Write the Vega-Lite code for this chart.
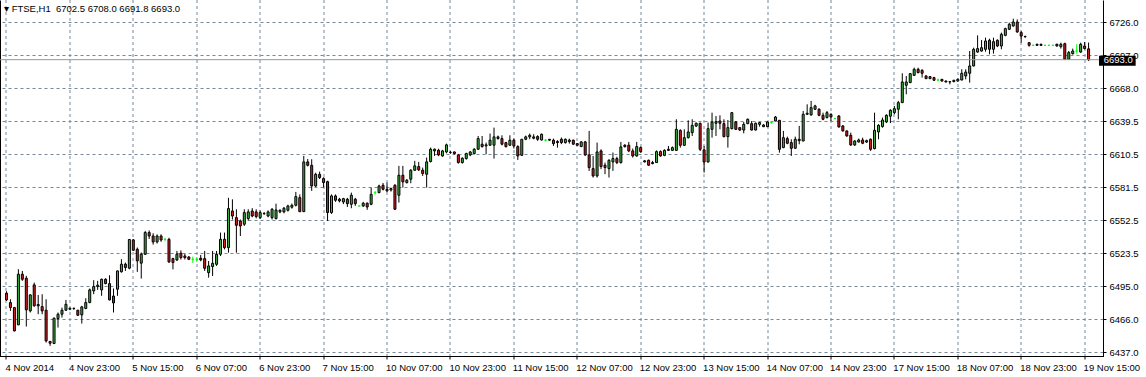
{
  "$schema": "https://vega.github.io/schema/vega-lite/v6.json",
  "width": 1103,
  "height": 356.5,
  "autosize": {"type": "none"},
  "padding": {"left": 0, "top": 0, "right": 43, "bottom": 20.5},
  "background": "#ffffff",
  "config": {"view": {"stroke": null}},
  "title": {
    "text": "▾ FTSE,H1\u00a0\u00a06702.5 6708.0 6691.8 6693.0",
    "anchor": "start", "frame": "group", "orient": "top", "offset": -21, "dx": 4,
    "font": "Liberation Sans", "fontSize": 9.5, "fontWeight": "normal", "color": "#000000", "baseline": "alphabetic"
  },
  "datasets": {
    "ohlc": [
{"i":0,"o":6488.5,"h":6490.2,"l":6481.8,"c":6482.6},
{"i":1,"o":6480.3,"h":6483.2,"l":6473.0,"c":6475.9},
{"i":2,"o":6475.9,"h":6476.5,"l":6455.0,"c":6455.5},
{"i":3,"o":6460.8,"h":6509.5,"l":6460.5,"c":6505.1},
{"i":4,"o":6505.1,"h":6508.0,"l":6499.3,"c":6500.7},
{"i":5,"o":6501.6,"h":6503.7,"l":6459.3,"c":6473.9},
{"i":6,"o":6473.0,"h":6487.6,"l":6471.6,"c":6487.0},
{"i":7,"o":6495.8,"h":6497.8,"l":6476.8,"c":6477.4},
{"i":8,"o":6478.6,"h":6487.0,"l":6470.1,"c":6477.4},
{"i":9,"o":6476.8,"h":6487.6,"l":6470.1,"c":6473.0},
{"i":10,"o":6473.6,"h":6483.2,"l":6445.3,"c":6446.7},
{"i":11,"o":6446.2,"h":6446.7,"l":6442.4,"c":6444.7},
{"i":12,"o":6444.4,"h":6467.2,"l":6444.0,"c":6466.6},
{"i":13,"o":6466.3,"h":6471.6,"l":6458.4,"c":6470.1},
{"i":14,"o":6470.1,"h":6475.9,"l":6467.2,"c":6473.6},
{"i":15,"o":6473.6,"h":6482.6,"l":6473.0,"c":6478.8},
{"i":16,"o":6474.5,"h":6475.9,"l":6473.6,"c":6475.3},
{"i":17,"o":6475.0,"h":6476.0,"l":6474.0,"c":6475.2},
{"i":18,"o":6473.6,"h":6473.9,"l":6468.6,"c":6469.2},
{"i":19,"o":6469.5,"h":6477.4,"l":6461.9,"c":6476.5},
{"i":20,"o":6475.1,"h":6484.1,"l":6474.5,"c":6480.3},
{"i":21,"o":6480.3,"h":6492.6,"l":6479.7,"c":6491.4},
{"i":22,"o":6490.5,"h":6499.9,"l":6487.6,"c":6494.3},
{"i":23,"o":6494.3,"h":6499.3,"l":6491.4,"c":6495.5},
{"i":24,"o":6491.4,"h":6501.3,"l":6486.2,"c":6500.7},
{"i":25,"o":6500.7,"h":6501.6,"l":6496.3,"c":6496.9},
{"i":26,"o":6496.9,"h":6504.2,"l":6482.2,"c":6482.6},
{"i":27,"o":6486.0,"h":6492.6,"l":6471.6,"c":6480.0},
{"i":28,"o":6492.0,"h":6508.3,"l":6486.2,"c":6508.0},
{"i":29,"o":6507.2,"h":6518.3,"l":6506.6,"c":6513.9},
{"i":30,"o":6513.9,"h":6515.3,"l":6508.0,"c":6511.0},
{"i":31,"o":6510.4,"h":6536.0,"l":6509.5,"c":6535.5},
{"i":32,"o":6535.2,"h":6535.8,"l":6525.8,"c":6526.1},
{"i":33,"o":6527.0,"h":6528.5,"l":6507.2,"c":6516.8},
{"i":34,"o":6514.8,"h":6524.1,"l":6501.3,"c":6522.6},
{"i":35,"o":6522.6,"h":6543.0,"l":6522.0,"c":6541.6},
{"i":36,"o":6541.6,"h":6543.5,"l":6536.0,"c":6538.6},
{"i":37,"o":6538.6,"h":6541.0,"l":6531.0,"c":6533.4},
{"i":38,"o":6533.4,"h":6540.0,"l":6532.0,"c":6538.6},
{"i":39,"o":6538.6,"h":6540.0,"l":6533.5,"c":6535.1},
{"i":40,"o":6535.7,"h":6537.0,"l":6534.0,"c":6535.7},
{"i":41,"o":6535.7,"h":6537.0,"l":6515.0,"c":6515.9},
{"i":42,"o":6518.8,"h":6519.5,"l":6509.4,"c":6515.3},
{"i":43,"o":6517.6,"h":6525.5,"l":6516.7,"c":6522.6},
{"i":44,"o":6523.5,"h":6526.0,"l":6518.0,"c":6519.7},
{"i":45,"o":6521.1,"h":6523.0,"l":6518.0,"c":6519.7},
{"i":46,"o":6520.2,"h":6521.0,"l":6517.5,"c":6518.2},
{"i":47,"o":6518.2,"h":6520.5,"l":6515.0,"c":6518.2},
{"i":48,"o":6518.2,"h":6520.0,"l":6516.0,"c":6518.2},
{"i":49,"o":6519.1,"h":6522.0,"l":6516.5,"c":6517.6},
{"i":50,"o":6518.8,"h":6525.5,"l":6508.0,"c":6510.3},
{"i":51,"o":6506.5,"h":6516.7,"l":6502.1,"c":6512.4},
{"i":52,"o":6511.8,"h":6525.5,"l":6503.6,"c":6514.7},
{"i":53,"o":6513.8,"h":6525.5,"l":6512.4,"c":6522.6},
{"i":54,"o":6522.6,"h":6541.6,"l":6521.1,"c":6535.7},
{"i":55,"o":6535.7,"h":6541.6,"l":6526.9,"c":6528.4},
{"i":56,"o":6528.4,"h":6572.0,"l":6524.0,"c":6562.6},
{"i":57,"o":6560.5,"h":6570.7,"l":6553.0,"c":6556.1},
{"i":58,"o":6554.7,"h":6562.0,"l":6524.0,"c":6548.0},
{"i":59,"o":6551.8,"h":6553.0,"l":6538.6,"c":6547.4},
{"i":60,"o":6548.9,"h":6562.0,"l":6547.4,"c":6559.1},
{"i":61,"o":6553.8,"h":6562.0,"l":6552.0,"c":6559.7},
{"i":62,"o":6560.5,"h":6563.0,"l":6555.0,"c":6556.1},
{"i":63,"o":6559.7,"h":6562.0,"l":6554.0,"c":6555.6},
{"i":64,"o":6554.7,"h":6561.0,"l":6553.5,"c":6559.1},
{"i":65,"o":6558.2,"h":6559.5,"l":6557.0,"c":6558.4},
{"i":66,"o":6556.1,"h":6561.0,"l":6555.0,"c":6559.7},
{"i":67,"o":6554.7,"h":6563.0,"l":6553.0,"c":6562.0},
{"i":68,"o":6553.8,"h":6566.9,"l":6553.2,"c":6561.4},
{"i":69,"o":6559.7,"h":6562.0,"l":6558.5,"c":6561.1},
{"i":70,"o":6559.7,"h":6564.0,"l":6558.5,"c":6562.9},
{"i":71,"o":6561.1,"h":6566.0,"l":6560.0,"c":6564.9},
{"i":72,"o":6563.8,"h":6567.0,"l":6562.5,"c":6565.5},
{"i":73,"o":6565.5,"h":6577.2,"l":6564.5,"c":6573.1},
{"i":74,"o":6572.2,"h":6575.0,"l":6559.5,"c":6559.9},
{"i":75,"o":6559.9,"h":6608.7,"l":6559.7,"c":6603.5},
{"i":76,"o":6603.5,"h":6606.0,"l":6599.5,"c":6600.5},
{"i":77,"o":6600.5,"h":6605.8,"l":6578.1,"c":6582.4},
{"i":78,"o":6582.4,"h":6594.0,"l":6581.5,"c":6592.6},
{"i":79,"o":6592.6,"h":6595.0,"l":6588.5,"c":6589.7},
{"i":80,"o":6588.9,"h":6590.0,"l":6581.0,"c":6585.4},
{"i":81,"o":6586.2,"h":6587.0,"l":6551.8,"c":6559.1},
{"i":82,"o":6559.1,"h":6575.0,"l":6558.0,"c":6573.7},
{"i":83,"o":6573.7,"h":6575.0,"l":6568.5,"c":6569.9},
{"i":84,"o":6570.8,"h":6572.0,"l":6568.0,"c":6569.3},
{"i":85,"o":6568.4,"h":6572.0,"l":6566.5,"c":6571.3},
{"i":86,"o":6570.8,"h":6572.0,"l":6564.0,"c":6566.9},
{"i":87,"o":6566.4,"h":6576.6,"l":6562.9,"c":6574.3},
{"i":88,"o":6570.8,"h":6572.0,"l":6565.0,"c":6566.9},
{"i":89,"o":6564.9,"h":6564.9,"l":6564.9,"c":6564.9},
{"i":90,"o":6564.9,"h":6568.5,"l":6564.0,"c":6567.3},
{"i":91,"o":6567.3,"h":6568.0,"l":6561.5,"c":6564.0},
{"i":92,"o":6566.4,"h":6581.0,"l":6565.5,"c":6575.1},
{"i":93,"o":6576.6,"h":6578.0,"l":6575.0,"c":6576.6},
{"i":94,"o":6576.6,"h":6583.5,"l":6576.0,"c":6582.4},
{"i":95,"o":6583.0,"h":6585.0,"l":6578.5,"c":6579.5},
{"i":96,"o":6579.5,"h":6585.4,"l":6577.0,"c":6578.1},
{"i":97,"o":6578.9,"h":6581.0,"l":6577.5,"c":6580.1},
{"i":98,"o":6583.0,"h":6584.0,"l":6561.5,"c":6562.0},
{"i":99,"o":6574.3,"h":6600.0,"l":6567.9,"c":6591.8},
{"i":100,"o":6591.8,"h":6600.0,"l":6581.0,"c":6586.0},
{"i":101,"o":6585.4,"h":6588.5,"l":6584.5,"c":6587.4},
{"i":102,"o":6588.3,"h":6597.1,"l":6584.8,"c":6596.2},
{"i":103,"o":6596.2,"h":6604.4,"l":6595.5,"c":6600.0},
{"i":104,"o":6599.4,"h":6603.5,"l":6595.5,"c":6596.5},
{"i":105,"o":6596.2,"h":6598.5,"l":6591.2,"c":6593.3},
{"i":106,"o":6592.7,"h":6607.3,"l":6581.0,"c":6603.5},
{"i":107,"o":6603.8,"h":6616.0,"l":6603.0,"c":6614.6},
{"i":108,"o":6613.1,"h":6615.2,"l":6608.7,"c":6614.6},
{"i":109,"o":6613.7,"h":6615.0,"l":6608.5,"c":6609.6},
{"i":110,"o":6608.7,"h":6614.0,"l":6608.0,"c":6613.1},
{"i":111,"o":6612.2,"h":6619.5,"l":6611.0,"c":6618.4},
{"i":112,"o":6611.7,"h":6613.0,"l":6610.5,"c":6611.9},
{"i":113,"o":6612.2,"h":6612.5,"l":6610.0,"c":6610.8},
{"i":114,"o":6609.6,"h":6610.5,"l":6602.0,"c":6602.9},
{"i":115,"o":6602.9,"h":6607.5,"l":6602.0,"c":6606.7},
{"i":116,"o":6606.4,"h":6611.5,"l":6605.5,"c":6610.8},
{"i":117,"o":6609.6,"h":6613.0,"l":6608.5,"c":6612.2},
{"i":118,"o":6610.8,"h":6615.5,"l":6610.0,"c":6614.6},
{"i":119,"o":6614.6,"h":6626.2,"l":6614.0,"c":6623.9},
{"i":120,"o":6619.0,"h":6626.2,"l":6616.0,"c":6616.9},
{"i":121,"o":6617.5,"h":6620.4,"l":6610.2,"c":6618.4},
{"i":122,"o":6618.1,"h":6628.3,"l":6617.5,"c":6622.5},
{"i":123,"o":6618.1,"h":6633.5,"l":6606.4,"c":6625.4},
{"i":124,"o":6625.4,"h":6626.5,"l":6623.0,"c":6623.9},
{"i":125,"o":6623.9,"h":6626.8,"l":6618.0,"c":6619.0},
{"i":126,"o":6620.4,"h":6621.0,"l":6616.0,"c":6616.9},
{"i":127,"o":6618.1,"h":6626.8,"l":6617.5,"c":6622.5},
{"i":128,"o":6622.5,"h":6623.9,"l":6615.2,"c":6617.5},
{"i":129,"o":6616.9,"h":6618.1,"l":6605.2,"c":6608.7},
{"i":130,"o":6609.3,"h":6623.6,"l":6608.7,"c":6623.3},
{"i":131,"o":6623.3,"h":6626.5,"l":6622.5,"c":6625.4},
{"i":132,"o":6625.4,"h":6628.3,"l":6623.3,"c":6626.8},
{"i":133,"o":6625.4,"h":6627.7,"l":6623.3,"c":6624.2},
{"i":134,"o":6625.7,"h":6626.8,"l":6621.9,"c":6623.3},
{"i":135,"o":6622.7,"h":6628.3,"l":6622.2,"c":6627.7},
{"i":136,"o":6622.5,"h":6623.5,"l":6621.5,"c":6622.5},
{"i":137,"o":6622.5,"h":6623.5,"l":6622.0,"c":6623.3},
{"i":138,"o":6622.5,"h":6623.9,"l":6617.5,"c":6619.5},
{"i":139,"o":6621.3,"h":6622.5,"l":6616.0,"c":6620.4},
{"i":140,"o":6623.3,"h":6624.8,"l":6619.0,"c":6620.4},
{"i":141,"o":6620.4,"h":6624.0,"l":6619.5,"c":6623.3},
{"i":142,"o":6622.5,"h":6623.9,"l":6619.5,"c":6621.3},
{"i":143,"o":6622.5,"h":6623.0,"l":6618.5,"c":6619.0},
{"i":144,"o":6619.5,"h":6620.0,"l":6617.5,"c":6618.1},
{"i":145,"o":6616.9,"h":6621.5,"l":6616.5,"c":6621.0},
{"i":146,"o":6621.0,"h":6621.9,"l":6608.7,"c":6609.6},
{"i":147,"o":6609.6,"h":6630.6,"l":6595.6,"c":6598.5},
{"i":148,"o":6597.6,"h":6608.7,"l":6589.8,"c":6591.2},
{"i":149,"o":6591.2,"h":6620.4,"l":6589.8,"c":6612.2},
{"i":150,"o":6613.1,"h":6614.5,"l":6597.1,"c":6599.4},
{"i":151,"o":6600.6,"h":6602.9,"l":6592.7,"c":6598.5},
{"i":152,"o":6597.6,"h":6605.8,"l":6589.8,"c":6604.9},
{"i":153,"o":6603.5,"h":6611.7,"l":6595.6,"c":6606.4},
{"i":154,"o":6606.4,"h":6608.0,"l":6601.5,"c":6602.9},
{"i":155,"o":6602.9,"h":6621.0,"l":6602.0,"c":6616.6},
{"i":156,"o":6618.1,"h":6619.0,"l":6616.0,"c":6616.9},
{"i":157,"o":6618.1,"h":6621.0,"l":6612.0,"c":6613.1},
{"i":158,"o":6613.1,"h":6615.2,"l":6607.3,"c":6608.7},
{"i":159,"o":6608.7,"h":6621.0,"l":6608.0,"c":6616.9},
{"i":160,"o":6616.0,"h":6617.0,"l":6611.5,"c":6612.5},
{"i":161,"o":6604.4,"h":6605.0,"l":6603.0,"c":6603.5},
{"i":162,"o":6604.9,"h":6605.5,"l":6600.0,"c":6600.6},
{"i":163,"o":6602.9,"h":6604.4,"l":6601.4,"c":6602.0},
{"i":164,"o":6602.9,"h":6613.5,"l":6602.5,"c":6612.5},
{"i":165,"o":6612.5,"h":6613.5,"l":6608.0,"c":6608.7},
{"i":166,"o":6609.2,"h":6614.5,"l":6608.5,"c":6613.6},
{"i":167,"o":6613.6,"h":6617.4,"l":6613.0,"c":6614.5},
{"i":168,"o":6613.6,"h":6617.0,"l":6613.0,"c":6616.0},
{"i":169,"o":6613.6,"h":6640.8,"l":6613.0,"c":6632.0},
{"i":170,"o":6631.1,"h":6632.0,"l":6616.0,"c":6618.0},
{"i":171,"o":6618.0,"h":6632.0,"l":6617.5,"c":6624.7},
{"i":172,"o":6624.7,"h":6639.9,"l":6624.0,"c":6629.7},
{"i":173,"o":6629.1,"h":6640.8,"l":6626.2,"c":6635.5},
{"i":174,"o":6634.9,"h":6638.0,"l":6634.0,"c":6637.3},
{"i":175,"o":6637.3,"h":6637.9,"l":6613.0,"c":6614.5},
{"i":176,"o":6614.0,"h":6617.4,"l":6594.1,"c":6603.4},
{"i":177,"o":6603.4,"h":6637.9,"l":6603.0,"c":6632.6},
{"i":178,"o":6632.0,"h":6646.6,"l":6624.7,"c":6638.4},
{"i":179,"o":6637.3,"h":6643.7,"l":6626.2,"c":6638.7},
{"i":180,"o":6639.3,"h":6644.3,"l":6632.0,"c":6637.3},
{"i":181,"o":6637.0,"h":6640.8,"l":6625.0,"c":6625.6},
{"i":182,"o":6625.6,"h":6640.2,"l":6616.0,"c":6633.5},
{"i":183,"o":6632.6,"h":6647.2,"l":6632.0,"c":6646.6},
{"i":184,"o":6638.4,"h":6639.3,"l":6631.5,"c":6632.0},
{"i":185,"o":6633.5,"h":6634.0,"l":6630.5,"c":6631.4},
{"i":186,"o":6631.4,"h":6638.4,"l":6628.5,"c":6636.4},
{"i":187,"o":6637.0,"h":6641.5,"l":6636.5,"c":6640.8},
{"i":188,"o":6637.0,"h":6639.3,"l":6631.0,"c":6631.4},
{"i":189,"o":6631.4,"h":6638.0,"l":6631.0,"c":6637.3},
{"i":190,"o":6636.4,"h":6638.4,"l":6634.3,"c":6637.9},
{"i":191,"o":6635.8,"h":6636.5,"l":6634.0,"c":6634.3},
{"i":192,"o":6634.3,"h":6639.0,"l":6634.0,"c":6638.4},
{"i":193,"o":6637.9,"h":6639.0,"l":6637.0,"c":6637.9},
{"i":194,"o":6639.3,"h":6643.7,"l":6639.0,"c":6642.8},
{"i":195,"o":6639.9,"h":6640.2,"l":6611.6,"c":6614.5},
{"i":196,"o":6616.0,"h":6630.6,"l":6615.5,"c":6624.7},
{"i":197,"o":6623.9,"h":6625.6,"l":6619.0,"c":6619.8},
{"i":198,"o":6620.4,"h":6623.3,"l":6608.7,"c":6615.4},
{"i":199,"o":6615.4,"h":6625.6,"l":6615.0,"c":6623.3},
{"i":200,"o":6623.3,"h":6635.0,"l":6618.9,"c":6622.1},
{"i":201,"o":6621.8,"h":6648.1,"l":6621.5,"c":6645.2},
{"i":202,"o":6645.2,"h":6653.9,"l":6644.5,"c":6646.1},
{"i":203,"o":6644.6,"h":6656.9,"l":6644.0,"c":6651.0},
{"i":204,"o":6649.6,"h":6653.5,"l":6649.0,"c":6652.5},
{"i":205,"o":6649.6,"h":6650.5,"l":6643.5,"c":6644.3},
{"i":206,"o":6644.3,"h":6646.6,"l":6640.0,"c":6640.8},
{"i":207,"o":6642.3,"h":6648.1,"l":6641.5,"c":6646.6},
{"i":208,"o":6645.2,"h":6646.0,"l":6639.3,"c":6642.8},
{"i":209,"o":6641.4,"h":6641.4,"l":6641.4,"c":6641.4},
{"i":210,"o":6643.7,"h":6644.5,"l":6633.5,"c":6634.1},
{"i":211,"o":6635.0,"h":6635.5,"l":6630.0,"c":6630.6},
{"i":212,"o":6630.6,"h":6631.0,"l":6625.5,"c":6626.2},
{"i":213,"o":6626.8,"h":6629.1,"l":6617.5,"c":6618.3},
{"i":214,"o":6618.3,"h":6622.5,"l":6617.5,"c":6621.8},
{"i":215,"o":6620.9,"h":6623.9,"l":6620.5,"c":6622.7},
{"i":216,"o":6622.7,"h":6624.7,"l":6619.0,"c":6619.8},
{"i":217,"o":6620.9,"h":6623.0,"l":6620.0,"c":6622.1},
{"i":218,"o":6623.3,"h":6624.0,"l":6613.1,"c":6614.5},
{"i":219,"o":6615.1,"h":6646.6,"l":6614.5,"c":6631.2},
{"i":220,"o":6629.7,"h":6636.5,"l":6623.3,"c":6635.5},
{"i":221,"o":6634.4,"h":6642.3,"l":6633.5,"c":6640.2},
{"i":222,"o":6638.5,"h":6645.2,"l":6637.5,"c":6644.3},
{"i":223,"o":6643.5,"h":6649.6,"l":6637.5,"c":6648.7},
{"i":224,"o":6646.6,"h":6652.5,"l":6645.2,"c":6650.1},
{"i":225,"o":6649.6,"h":6656.9,"l":6640.8,"c":6655.4},
{"i":226,"o":6655.4,"h":6681.1,"l":6655.0,"c":6673.5},
{"i":227,"o":6670.6,"h":6678.7,"l":6662.7,"c":6673.5},
{"i":228,"o":6672.9,"h":6681.1,"l":6672.5,"c":6680.8},
{"i":229,"o":6679.3,"h":6686.0,"l":6679.0,"c":6684.6},
{"i":230,"o":6684.6,"h":6686.0,"l":6681.0,"c":6681.7},
{"i":231,"o":6683.7,"h":6684.6,"l":6677.3,"c":6681.1},
{"i":232,"o":6678.7,"h":6679.5,"l":6676.0,"c":6676.4},
{"i":233,"o":6678.2,"h":6678.5,"l":6676.0,"c":6676.4},
{"i":234,"o":6677.3,"h":6678.0,"l":6674.5,"c":6675.0},
{"i":235,"o":6675.2,"h":6676.5,"l":6674.0,"c":6675.2},
{"i":236,"o":6675.8,"h":6676.0,"l":6674.0,"c":6674.3},
{"i":237,"o":6674.3,"h":6674.8,"l":6673.0,"c":6673.5},
{"i":238,"o":6673.5,"h":6674.3,"l":6671.4,"c":6673.7},
{"i":239,"o":6673.8,"h":6675.5,"l":6673.2,"c":6674.9},
{"i":240,"o":6674.3,"h":6676.5,"l":6673.8,"c":6675.8},
{"i":241,"o":6675.2,"h":6684.6,"l":6674.9,"c":6681.1},
{"i":242,"o":6678.7,"h":6684.6,"l":6675.8,"c":6682.2},
{"i":243,"o":6681.1,"h":6700.6,"l":6672.9,"c":6687.5},
{"i":244,"o":6687.5,"h":6703.5,"l":6687.0,"c":6702.1},
{"i":245,"o":6699.7,"h":6714.3,"l":6699.0,"c":6702.7},
{"i":246,"o":6700.6,"h":6710.2,"l":6700.0,"c":6703.5},
{"i":247,"o":6702.1,"h":6712.3,"l":6700.0,"c":6709.4},
{"i":248,"o":6710.0,"h":6711.4,"l":6697.7,"c":6702.1},
{"i":249,"o":6702.1,"h":6712.3,"l":6698.3,"c":6708.8},
{"i":250,"o":6710.0,"h":6710.8,"l":6704.0,"c":6705.0},
{"i":251,"o":6705.0,"h":6716.7,"l":6702.1,"c":6715.2},
{"i":252,"o":6714.3,"h":6721.0,"l":6713.5,"c":6720.2},
{"i":253,"o":6719.6,"h":6725.4,"l":6719.0,"c":6724.0},
{"i":254,"o":6722.5,"h":6728.9,"l":6722.0,"c":6726.0},
{"i":255,"o":6726.0,"h":6728.3,"l":6716.5,"c":6717.3},
{"i":256,"o":6716.7,"h":6718.1,"l":6707.9,"c":6713.7},
{"i":257,"o":6713.2,"h":6714.0,"l":6712.0,"c":6713.4},
{"i":258,"o":6707.9,"h":6708.5,"l":6704.4,"c":6705.6},
{"i":259,"o":6705.6,"h":6705.6,"l":6705.6,"c":6705.6},
{"i":260,"o":6705.6,"h":6707.0,"l":6705.0,"c":6706.5},
{"i":261,"o":6706.5,"h":6707.0,"l":6705.0,"c":6705.6},
{"i":262,"o":6705.6,"h":6705.6,"l":6705.6,"c":6705.6},
{"i":263,"o":6705.6,"h":6705.6,"l":6705.6,"c":6705.6},
{"i":264,"o":6705.6,"h":6705.6,"l":6705.6,"c":6705.6},
{"i":265,"o":6706.5,"h":6707.0,"l":6704.5,"c":6705.0},
{"i":266,"o":6704.4,"h":6707.9,"l":6702.7,"c":6706.5},
{"i":267,"o":6707.0,"h":6707.9,"l":6692.7,"c":6693.3},
{"i":268,"o":6693.3,"h":6700.6,"l":6692.7,"c":6699.2},
{"i":269,"o":6698.3,"h":6702.7,"l":6697.5,"c":6700.6},
{"i":270,"o":6700.6,"h":6706.5,"l":6698.3,"c":6700.6},
{"i":271,"o":6699.7,"h":6707.9,"l":6699.0,"c":6706.5},
{"i":272,"o":6705.0,"h":6708.5,"l":6702.0,"c":6702.7},
{"i":273,"o":6702.5,"h":6708.0,"l":6691.8,"c":6693.0}
    ]
  },
  "resolve": {"axis": {"y": "independent"}},
  "layer": [
    {
      "data": {"name": "ohlc"},
      "mark": {"type": "rule", "strokeWidth": 1},
      "encoding": {
        "x": {
          "field": "i", "type": "quantitative", "title": null,
          "scale": {"domain": [-0.375, 275.375], "nice": false, "zero": false},
          "axis": {
            "orient": "bottom",
            "values": [0,8,16,24,32,40,48,56,64,72,80,88,96,104,112,120,128,136,144,152,160,168,176,184,192,200,208,216,224,232,240,248,256,264,272],
            "labelExpr": "datum.value % 16 == 0 ? ['4 Nov 2014','4 Nov 23:00','5 Nov 15:00','6 Nov 07:00','6 Nov 23:00','7 Nov 15:00','10 Nov 07:00','10 Nov 23:00','11 Nov 15:00','12 Nov 07:00','12 Nov 23:00','13 Nov 15:00','14 Nov 07:00','14 Nov 23:00','17 Nov 15:00','18 Nov 07:00','18 Nov 23:00','19 Nov 15:00'][datum.value / 16] : ''",
            "grid": true, "gridColor": "#778899", "gridDash": [3, 3], "gridOpacity": 1, "gridWidth": 1,
            "domain": true, "domainColor": "#000000", "domainWidth": 1,
            "ticks": true, "tickColor": "#000000", "tickSize": 3, "tickWidth": 1,
            "labelAlign": "left", "labelBaseline": "top", "labelPadding": 3, "labelOffset": -1,
            "labelFlush": false, "labelOverlap": false, "labelBound": false,
            "labelFont": "Liberation Sans", "labelFontSize": 9.5, "labelColor": "#000000",
            "translate": 0
          }
        },
        "y": {
          "field": "l", "type": "quantitative", "title": null,
          "scale": {"domain": [6433.06, 6745.27], "nice": false, "zero": false},
          "axis": {
            "orient": "right",
            "values": [6437.0, 6465.9, 6494.8, 6523.7, 6552.6, 6581.5, 6610.4, 6639.3, 6668.2, 6697.1, 6726.0],
            "labelExpr": "datum.value > 6720 ? '6726.0' : datum.value > 6690 ? '6697.0' : datum.value > 6660 ? '6668.0' : datum.value > 6630 ? '6639.5' : datum.value > 6600 ? '6610.5' : datum.value > 6570 ? '6581.5' : datum.value > 6540 ? '6552.5' : datum.value > 6510 ? '6523.5' : datum.value > 6480 ? '6495.0' : datum.value > 6450 ? '6466.0' : '6437.0'",
            "grid": true, "gridColor": "#778899", "gridDash": [3, 3], "gridOpacity": 1, "gridWidth": 1,
            "domain": true, "domainColor": "#000000", "domainWidth": 1,
            "ticks": true, "tickColor": "#000000", "tickSize": 3, "tickWidth": 1,
            "labelAlign": "left", "labelBaseline": "middle", "labelPadding": 3,
            "labelFlush": false, "labelOverlap": false, "labelBound": false,
            "labelFont": "Liberation Sans", "labelFontSize": 9.5, "labelColor": "#000000"
          }
        },
        "y2": {"field": "h"},
        "stroke": {"condition": {"test": "datum.c == datum.o", "value": "#00FF00"}, "value": "#000000"}
      }
    },
    {
      "data": {"name": "ohlc"},
      "mark": {"type": "bar", "width": 2, "strokeWidth": 1},
      "encoding": {
        "x": {
          "field": "i", "type": "quantitative", "title": null,
          "scale": {"domain": [-0.375, 275.375], "nice": false, "zero": false}
        },
        "y": {
          "field": "o", "type": "quantitative", "title": null,
          "scale": {"domain": [6433.06, 6745.27], "nice": false, "zero": false},
          "axis": {"orient": "left", "domain": true, "domainColor": "#000000", "domainWidth": 1, "labels": false, "ticks": false, "grid": false, "title": null}
        },
        "y2": {"field": "c"},
        "fill": {
          "condition": [
            {"test": "datum.c > datum.o", "value": "#3FB23F"},
            {"test": "datum.c < datum.o", "value": "#D42020"}
          ],
          "value": "#00FF00"
        },
        "stroke": {"condition": {"test": "datum.c == datum.o", "value": "#00FF00"}, "value": "#000000"}
      }
    },
    {
      "data": {"values": [{"bid": 6693.0}]},
      "mark": {"type": "rule", "stroke": "#8E99A4", "strokeWidth": 1},
      "encoding": {
        "y": {"field": "bid", "type": "quantitative", "title": null,
              "scale": {"domain": [6433.06, 6745.27], "nice": false, "zero": false}, "axis": null}
      }
    },
    {
      "data": {"values": [{"bid": 6693.0}]},
      "mark": {"type": "rect", "fill": "#000000"},
      "encoding": {
        "x": {"datum": 275.625, "type": "quantitative", "title": null,
              "scale": {"domain": [-0.375, 275.375], "nice": false, "zero": false}},
        "x2": {"datum": 284.875},
        "y": {"datum": 6696.5, "type": "quantitative", "title": null,
              "scale": {"domain": [6433.06, 6745.27], "nice": false, "zero": false}, "axis": null},
        "y2": {"datum": 6687.7}
      }
    },
    {
      "data": {"values": [{"bid": 6693.0, "label": "6693.0"}]},
      "mark": {"type": "text", "align": "left", "baseline": "middle", "color": "#ffffff", "font": "Liberation Sans", "fontSize": 9.5},
      "encoding": {
        "x": {"datum": 276.8, "type": "quantitative", "title": null,
              "scale": {"domain": [-0.375, 275.375], "nice": false, "zero": false}},
        "y": {"field": "bid", "type": "quantitative", "title": null,
              "scale": {"domain": [6433.06, 6745.27], "nice": false, "zero": false}, "axis": null},
        "text": {"field": "label"}
      }
    }
  ]
}
